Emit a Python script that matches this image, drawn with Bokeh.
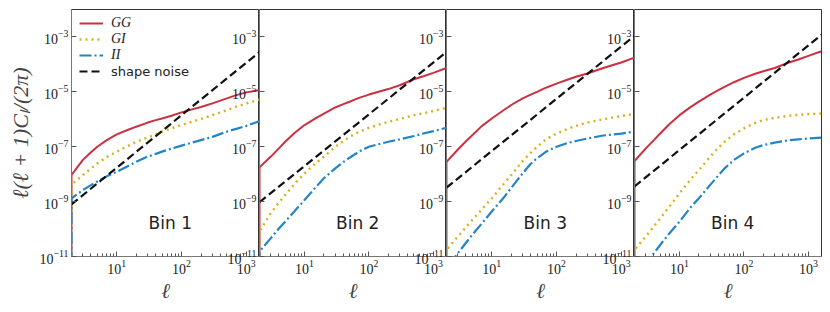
from bokeh.plotting import figure
from bokeh.models import Range1d, FixedTicker, Legend, LegendItem, Label
from bokeh.layouts import row
from bokeh.embed import file_html
from bokeh.resources import INLINE

# multipole sample points (the duplicate ell=2 point carries the drop at the left edge)
ell = [2, 2, 3, 4, 5, 7, 10, 15, 20, 30, 40, 50, 70, 100, 150, 200, 300, 500, 700, 1000, 1600]

# values, given as log10 of l(l+1)C_l/(2pi)
gg_bin1_log10 = [-12, -8.03, -7.48, -7.20, -7.00, -6.76, -6.55, -6.38, -6.27, -6.12, -6.03, -5.97, -5.87, -5.75, -5.63, -5.55, -5.42, -5.24, -5.12, -5.02, -4.94]
gi_bin1_log10 = [-12, -8.39, -8.03, -7.80, -7.61, -7.38, -7.18, -6.97, -6.82, -6.66, -6.55, -6.45, -6.33, -6.21, -6.08, -5.99, -5.85, -5.67, -5.54, -5.42, -5.28]
ii_bin1_log10 = [-12, -8.88, -8.58, -8.40, -8.27, -8.08, -7.91, -7.70, -7.55, -7.36, -7.26, -7.18, -7.07, -6.96, -6.84, -6.76, -6.64, -6.45, -6.35, -6.24, -6.07]

gg_bin2_log10 = [-12, -7.75, -7.36, -7.06, -6.82, -6.50, -6.21, -5.96, -5.79, -5.57, -5.45, -5.36, -5.22, -5.10, -4.98, -4.90, -4.76, -4.54, -4.43, -4.31, -4.13]
gi_bin2_log10 = [-12, -10.09, -9.42, -9.03, -8.76, -8.36, -7.97, -7.60, -7.36, -7.00, -6.80, -6.64, -6.46, -6.31, -6.18, -6.09, -5.99, -5.85, -5.78, -5.70, -5.58]
ii_bin2_log10 = [-12, -10.82, -10.33, -9.98, -9.73, -9.35, -8.94, -8.47, -8.15, -7.79, -7.56, -7.40, -7.18, -7.00, -6.89, -6.82, -6.73, -6.61, -6.52, -6.43, -6.31]

gg_bin3_log10 = [-12, -7.55, -7.10, -6.80, -6.58, -6.25, -5.97, -5.68, -5.48, -5.24, -5.10, -5.00, -4.84, -4.70, -4.55, -4.45, -4.33, -4.15, -4.04, -3.93, -3.75]
gi_bin3_log10 = [-12, -10.76, -10.27, -9.93, -9.67, -9.29, -8.88, -8.38, -8.03, -7.52, -7.22, -7.00, -6.72, -6.52, -6.35, -6.24, -6.12, -6.01, -5.95, -5.88, -5.81]
ii_bin3_log10 = [-12, -11.41, -10.88, -10.50, -10.21, -9.80, -9.36, -8.88, -8.50, -7.97, -7.62, -7.42, -7.17, -7.00, -6.86, -6.79, -6.70, -6.60, -6.56, -6.52, -6.45]

gg_bin4_log10 = [-12, -7.52, -7.06, -6.76, -6.52, -6.17, -5.85, -5.55, -5.36, -5.10, -4.94, -4.82, -4.65, -4.49, -4.34, -4.25, -4.13, -3.93, -3.82, -3.69, -3.52]
gi_bin4_log10 = [-12, -10.76, -10.27, -9.90, -9.61, -9.18, -8.70, -8.18, -7.85, -7.36, -7.04, -6.82, -6.55, -6.33, -6.13, -6.03, -5.95, -5.87, -5.84, -5.81, -5.79]
ii_bin4_log10 = [-12, -11.90, -11.30, -10.88, -10.58, -10.15, -9.73, -9.20, -8.88, -8.39, -8.05, -7.79, -7.48, -7.24, -7.04, -6.94, -6.85, -6.76, -6.73, -6.70, -6.67]

noise_ell = [2, 1600]
noise_bin1_log10 = [-9.10, -3.55]
noise_bin2_log10 = [-9.02, -3.55]
noise_bin3_log10 = [-8.49, -2.96]
noise_bin4_log10 = [-8.45, -2.92]

bin_labels = ["Bin 1", "Bin 2", "Bin 3", "Bin 4"]
series_labels = ["GG", "GI", "II", "shape noise"]
x_major = [10, 100, 1000]
x_minor = [3, 4, 5, 6, 7, 8, 9, 20, 30, 40, 50, 60, 70, 80, 90,
           200, 300, 400, 500, 600, 700, 800, 900]
y_major = [1e-11, 1e-9, 1e-7, 1e-5, 1e-3]


def unlog(vals):
    return [10.0 ** v for v in vals]


gg = [gg_bin1_log10, gg_bin2_log10, gg_bin3_log10, gg_bin4_log10]
gi = [gi_bin1_log10, gi_bin2_log10, gi_bin3_log10, gi_bin4_log10]
ii = [ii_bin1_log10, ii_bin2_log10, ii_bin3_log10, ii_bin4_log10]
noise = [noise_bin1_log10, noise_bin2_log10, noise_bin3_log10, noise_bin4_log10]

RED = "#cc3040"
GOLD = "#d6b21a"
BLUE = "#2385c2"
BLACK = "#111111"
SERIF = "Liberation Serif"

frame_widths = [188, 187, 188, 187]
figs = []
for i in range(4):
    left = 70 if i == 0 else 40
    right = 6 if i == 3 else 0
    p = figure(x_axis_type="log", y_axis_type="log",
               x_range=Range1d(2, 1600), y_range=Range1d(1e-11, 1e-2),
               frame_width=frame_widths[i], frame_height=247,
               min_border_left=left, min_border_right=right,
               min_border_top=1, min_border_bottom=52,
               output_backend="svg", toolbar_location=None,
               margin=(8, 0, 0, 1) if i == 0 else (8, 0, 0, -40))
    if i > 0:
        p.border_fill_color = None
    p.grid.visible = False
    p.outline_line_color = "#333333"
    p.outline_line_width = 1
    p.background_fill_color = None

    xa = p.xaxis[0]
    xa.ticker = FixedTicker(ticks=x_major, minor_ticks=x_minor)
    xa.axis_label = "ℓ"
    xa.axis_label_text_font = SERIF
    xa.axis_label_text_font_style = "italic"
    xa.axis_label_text_font_size = "21px"
    xa.axis_label_standoff = 2
    ya = p.yaxis[0]
    ya.ticker = FixedTicker(ticks=y_major)
    if i == 0:
        ya.axis_label = "ℓ(ℓ + 1)Cₗ/(2π)"
        ya.axis_label_text_font = SERIF
        ya.axis_label_text_font_style = "italic"
        ya.axis_label_text_font_size = "22px"
        ya.axis_label_standoff = 4
    for ax in (xa, ya):
        ax.major_label_text_font = SERIF
        ax.major_label_text_font_size = "14px"
        ax.major_label_text_color = "#222222"
        ax.major_label_standoff = 3
        ax.axis_line_color = "#777777"
        ax.major_tick_in = 5
        ax.major_tick_out = 0
        ax.minor_tick_in = 3
        ax.minor_tick_out = 0
        ax.major_tick_line_color = "#555555"
        ax.minor_tick_line_color = "#555555"

    r_gg = p.line(ell, unlog(gg[i]), line_color=RED, line_width=2)
    r_gi = p.line(ell, unlog(gi[i]), line_color=GOLD, line_width=2.4, line_dash="2 4")
    r_ii = p.line(ell, unlog(ii[i]), line_color=BLUE, line_width=2.2, line_dash="12 3 2 3")
    r_sn = p.line(noise_ell, unlog(noise[i]), line_color=BLACK, line_width=2.2, line_dash="8 4")

    p.add_layout(Label(x=67, y=1.6e-10, text=bin_labels[i], text_align="center",
                       text_baseline="middle", text_font="DejaVu Sans",
                       text_font_size="17px", text_color="#222222"))

    if i == 0:
        legA = Legend(items=[LegendItem(label=series_labels[0], renderers=[r_gg]),
                             LegendItem(label=series_labels[1], renderers=[r_gi]),
                             LegendItem(label=series_labels[2], renderers=[r_ii])],
                      location=(8, 193), padding=0, margin=0, spacing=0,
                      glyph_width=24, glyph_height=16, label_height=16,
                      label_standoff=8, border_line_alpha=0,
                      background_fill_alpha=0,
                      label_text_font=SERIF, label_text_font_style="italic",
                      label_text_font_size="14px", label_text_color="#222222")
        legB = Legend(items=[LegendItem(label=series_labels[3], renderers=[r_sn])],
                      location=(8, 177), padding=0, margin=0, spacing=0,
                      glyph_width=24, glyph_height=16, label_height=16,
                      label_standoff=8, border_line_alpha=0,
                      background_fill_alpha=0,
                      label_text_font="DejaVu Sans",
                      label_text_font_size="13px", label_text_color="#222222")
        p.add_layout(legA)
        p.add_layout(legB)
    figs.append(p)

layout = row(*figs, spacing=0)
open("out.html", "w").write(file_html(layout, INLINE))
